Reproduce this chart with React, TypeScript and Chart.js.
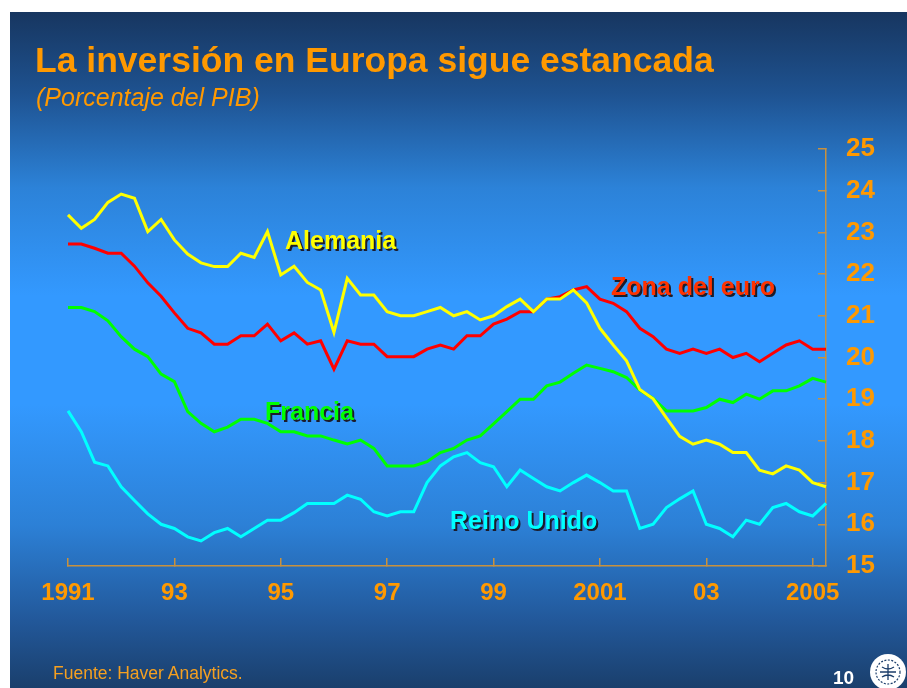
import React, { useEffect, useRef } from 'react';
import { Chart, registerables } from 'chart.js';

Chart.register(...registerables);

// ---- Data (percent of GDP, quarterly 1991-I .. 2005-II) ----
const years = [1991, 1992, 1993, 1994, 1995, 1996, 1997, 1998, 1999, 2000, 2001, 2002, 2003, 2004, 2005];
const quarterNames = ['I', 'II', 'III', 'IV'];
const periods: string[] = years.flatMap((y) => quarterNames.map((q) => `${y}-${q}`)).slice(0, 58);

const xTickPeriods = ['1991-I', '1993-I', '1995-I', '1997-I', '1999-I', '2001-I', '2003-I', '2005-I'];
const xTickLabels = ['1991', '93', '95', '97', '99', '2001', '03', '2005'];

const alemania = [
  23.42, 23.10, 23.31, 23.72, 23.92, 23.82, 23.02, 23.31, 22.82, 22.48,
  22.27, 22.18, 22.18, 22.50, 22.40, 23.02, 21.98, 22.19, 21.80, 21.62,
  20.60, 21.90, 21.50, 21.50, 21.10, 21.00, 21.00, 21.10, 21.20, 21.00,
  21.10, 20.90, 21.00, 21.22, 21.40, 21.10, 21.40, 21.40, 21.62, 21.31,
  20.70, 20.30, 19.92, 19.23, 19.01, 18.55, 18.11, 17.92, 18.02, 17.92,
  17.72, 17.72, 17.30, 17.21, 17.40, 17.30, 17.00, 16.90,
];

const zonaEuro = [
  22.72, 22.72, 22.62, 22.50, 22.50, 22.19, 21.79, 21.47, 21.07, 20.70,
  20.59, 20.32, 20.32, 20.52, 20.52, 20.80, 20.40, 20.59, 20.32, 20.40,
  19.72, 20.40, 20.32, 20.32, 20.02, 20.02, 20.02, 20.20, 20.30, 20.20,
  20.52, 20.52, 20.80, 20.92, 21.10, 21.10, 21.40, 21.46, 21.62, 21.70,
  21.40, 21.30, 21.10, 20.70, 20.50, 20.20, 20.10, 20.20, 20.10, 20.20,
  20.00, 20.10, 19.90, 20.10, 20.30, 20.40, 20.20, 20.20,
];

const francia = [
  21.20, 21.20, 21.10, 20.88, 20.50, 20.20, 20.02, 19.60, 19.42, 18.70,
  18.42, 18.22, 18.33, 18.52, 18.52, 18.42, 18.22, 18.22, 18.12, 18.12,
  18.02, 17.93, 18.02, 17.82, 17.40, 17.40, 17.40, 17.50, 17.72, 17.82,
  18.02, 18.12, 18.41, 18.70, 19.00, 19.00, 19.32, 19.41, 19.62, 19.82,
  19.74, 19.66, 19.52, 19.22, 19.02, 18.72, 18.72, 18.72, 18.80, 19.00,
  18.92, 19.12, 19.00, 19.20, 19.20, 19.32, 19.50, 19.41,
];

const reinoUnido = [
  18.72, 18.22, 17.49, 17.40, 16.90, 16.57, 16.25, 16.00, 15.90, 15.70,
  15.60, 15.80, 15.90, 15.70, 15.90, 16.10, 16.10, 16.28, 16.50, 16.50,
  16.50, 16.70, 16.60, 16.30, 16.20, 16.30, 16.30, 17.00, 17.40, 17.62,
  17.72, 17.48, 17.38, 16.90, 17.30, 17.10, 16.90, 16.80, 17.00, 17.18,
  17.00, 16.80, 16.80, 15.90, 16.00, 16.40, 16.61, 16.80, 16.00, 15.90,
  15.70, 16.10, 16.00, 16.40, 16.50, 16.30, 16.20, 16.50,
];

const yMin = 15;
const yMax = 25;

const ORANGE = '#FF9900';
const AXIS = '#C8913E';
const FONT = "'Liberation Sans', Arial, Helvetica, sans-serif";

const W = 907;
const H = 688;

export default function App() {
  const ref = useRef<HTMLCanvasElement | null>(null);

  useEffect(() => {
    if (!ref.current) return;
    const chart = new Chart(ref.current, {
      type: 'line',
      data: {
        labels: periods,
        datasets: [
          { label: 'Alemania', data: alemania, borderColor: '#FFFF00', order: 0 },
          { label: 'Zona del euro', data: zonaEuro, borderColor: '#FF0000', order: 1 },
          { label: 'Francia', data: francia, borderColor: '#00FF00', order: 2 },
          { label: 'Reino Unido', data: reinoUnido, borderColor: '#00FFFF', order: 3 },
        ].map((d) => ({
          ...d,
          borderWidth: 3,
          pointRadius: 0,
          pointHoverRadius: 0,
          tension: 0,
          fill: false,
        })),
      },
      options: {
        animation: false,
        responsive: false,
        devicePixelRatio: 1,
        events: [],
        layout: { padding: { left: 68, top: 149, right: 0, bottom: 0 } },
        plugins: {
          legend: { display: false },
          tooltip: { enabled: false },
          title: { display: false },
        },
        scales: {
          x: {
            type: 'category',
            offset: false,
            afterBuildTicks: (scale: any) => {
              scale.ticks = scale.ticks.filter((t: any) => xTickPeriods.includes(periods[t.value]));
            },
            afterFit: (scale: any) => {
              scale.height = 122;
            },
            grid: {
              display: true,
              drawOnChartArea: false,
              drawTicks: true,
              tickLength: -8,
              color: AXIS,
              lineWidth: 1.5,
            },
            border: { display: true, color: AXIS, width: 1.5 },
            ticks: {
              autoSkip: false,
              maxRotation: 0,
              minRotation: 0,
              padding: 21,
              color: ORANGE,
              font: { family: FONT, size: 24, weight: 'bold' },
              callback: (value: any) => {
                const idx = xTickPeriods.indexOf(periods[value as number]);
                return idx >= 0 ? xTickLabels[idx] : '';
              },
            },
          },
          y: {
            type: 'linear',
            position: 'right',
            min: yMin,
            max: yMax,
            afterFit: (scale: any) => {
              scale.width = 81;
            },
            grid: {
              display: true,
              drawOnChartArea: false,
              drawTicks: true,
              tickLength: -8,
              color: AXIS,
              lineWidth: 1.5,
            },
            border: { display: true, color: AXIS, width: 1.5 },
            ticks: {
              stepSize: 1,
              padding: 28,
              color: ORANGE,
              font: { family: FONT, size: 26, weight: 'bold' },
            },
          },
        },
      } as any,
    });
    return () => chart.destroy();
  }, []);

  const seriesLabel = (text: string, color: string, left: number, baseline: number) => (
    <div
      style={{
        position: 'absolute',
        left,
        top: baseline - 0.8465 * 25,
        fontFamily: FONT,
        fontWeight: 'bold',
        fontSize: 25,
        lineHeight: 1,
        color,
        whiteSpace: 'nowrap',
        textShadow: '2px 2px 0 #1c1c2a',
      }}
    >
      {text}
    </div>
  );

  return (
    <div
      style={{
        position: 'absolute',
        left: 0,
        top: 0,
        width: W,
        height: H,
        overflow: 'hidden',
        background: '#ffffff',
      }}
    >
      <div
        style={{
          position: 'absolute',
          left: 10,
          top: 12,
          width: W - 10,
          height: H - 12,
          background:
            'linear-gradient(180deg, #173660 0%, #1E5290 12%, #2C82D8 26%, #3399FF 42%, #3399FF 58%, #2C80D6 76%, #22589A 90%, #1A3F6C 100%)',
        }}
      />
      <canvas
        ref={ref}
        width={W}
        height={H}
        style={{ position: 'absolute', left: 0, top: 0, width: W, height: H }}
      />
      <div
        style={{
          position: 'absolute',
          left: 35,
          top: 73 - 0.8465 * 35.5,
          fontFamily: FONT,
          fontWeight: 'bold',
          fontSize: 35.5,
          lineHeight: 1,
          color: ORANGE,
          whiteSpace: 'nowrap',
        }}
      >
        La inversión en Europa sigue estancada
      </div>
      <div
        style={{
          position: 'absolute',
          left: 36,
          top: 106 - 0.8465 * 25,
          fontFamily: FONT,
          fontStyle: 'italic',
          fontSize: 25,
          lineHeight: 1,
          color: ORANGE,
          whiteSpace: 'nowrap',
        }}
      >
        (Porcentaje del PIB)
      </div>
      {seriesLabel('Alemania', '#FFFF00', 285, 249)}
      {seriesLabel('Zona del euro', '#FF3300', 611, 295)}
      {seriesLabel('Francia', '#00FF00', 265, 420)}
      {seriesLabel('Reino Unido', '#00FFFF', 450, 529)}
      <div
        style={{
          position: 'absolute',
          left: 53,
          top: 680 - 0.8465 * 17.5,
          fontFamily: FONT,
          fontSize: 17.5,
          lineHeight: 1,
          color: '#F5A020',
          whiteSpace: 'nowrap',
        }}
      >
        Fuente: Haver Analytics.
      </div>
      <div
        style={{
          position: 'absolute',
          left: 833,
          top: 684 - 0.8465 * 19,
          fontFamily: FONT,
          fontWeight: 'bold',
          fontSize: 19,
          lineHeight: 1,
          color: '#ffffff',
          whiteSpace: 'nowrap',
        }}
      >
        10
      </div>
      <svg
        width={42}
        height={40}
        style={{ position: 'absolute', left: 866, top: 650 }}
        viewBox="0 0 42 40"
      >
        <circle cx={22} cy={22} r={18} fill="#ffffff" />
        <circle cx={22} cy={22} r={12} fill="none" stroke="#1b3d6a" strokeWidth={1.2} strokeDasharray="2 1.5" />
        <path d="M14 22 h16 M22 14 v16 M16 17 q6 4 12 0 M16 27 q6 -4 12 0" stroke="#1b3d6a" strokeWidth={1.3} fill="none" />
      </svg>
    </div>
  );
}
